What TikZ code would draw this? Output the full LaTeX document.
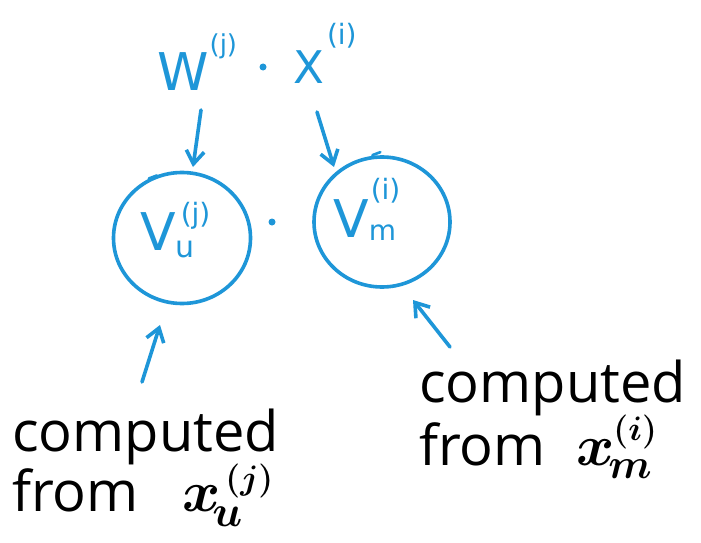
\RequirePackage{fix-cm}
\documentclass[tikz,border=0pt]{standalone}
\usepackage{amsmath}
\usepackage{fontspec}
\setmainfont{Open Sans}
\newfontfamily\handfont{DejaVu Sans}
\usetikzlibrary{arrows.meta,shapes.geometric}
\definecolor{pen}{HTML}{1E96D8}
\newcommand{\fs}[1]{\fontsize{#1}{#1}\selectfont}
\begin{document}
\begin{tikzpicture}[x=1pt,y=-1pt,
  penline/.style={draw=pen, line width=3.6pt, line cap=round, line join=round},
  penarrow/.style={penline, -{Straight Barb[length=13pt,width=18pt,line width=3.6pt]}},
  hand/.style={text=pen, font=\handfont, inner sep=0pt, anchor=base west},
  blob/.style={penline, ellipse, minimum width=137pt, minimum height=131pt, inner sep=0pt},
  lbl/.style={font=\fs{56}, inner sep=0pt, anchor=base west, align=left},
  mathlbl/.style={inner sep=0pt, anchor=base west, font=\boldmath}]
\useasboundingbox (0,0) rectangle (701,543);
\fill[white] (0,0) rectangle (701,543);

% top handwritten product
\node[hand] (wj) at (157,90) {\fs{52}W\kern1pt\raisebox{36pt}{\fs{26}(j)}};
\node[circle, fill=pen, inner sep=0pt, minimum size=7pt] (dot1) at (263,67) {};
\node[hand] (xi) at (293,83) {\fs{45}X\kern3pt\raisebox{39pt}{\fs{28}(i)}};

% circles
\node[blob] (cu) at (182,238) {};
\node[blob, minimum width=136pt, minimum height=130pt] (cm) at (382,222) {};
\draw[penline, line width=2.6pt] (cu.110) ++(-2,1) -- ++(-8,3);
\draw[penline, line width=2.6pt] (cm.100) ++(2,-1) -- ++(8,-3);

\node[hand] (vu) at (140,250) {\fs{52}V\rlap{\kern0pt\raisebox{-7pt}{\fs{30}u}}\kern5pt\raisebox{27pt}{\fs{28}(j)}};
\node[circle, fill=pen, inner sep=0pt, minimum size=7pt] (dot2) at (272,222) {};
\node[hand] (vm) at (333,237) {\fs{52}V\rlap{\kern0pt\raisebox{-3pt}{\fs{28}m}}\kern2pt\raisebox{38pt}{\fs{28}(i)}};

% labels
\node[lbl] (lc) at (12,451) {computed};
\node[lbl] (lf) at (12,511) {from};
\node[mathlbl] (lx) at (182,511) {\fs{58}$x$\rlap{\kern-8pt\raisebox{-15pt}{\fs{44}$u$}}\kern5pt\raisebox{22pt}{\fs{34}$(j)$}};
\node[lbl] (rc) at (419,402) {computed};
\node[lbl] (rf) at (419,465) {from};
\node[mathlbl] (rx) at (576,465) {\fs{58}$x$\rlap{\kern-6pt\raisebox{-13pt}{\fs{42}$m$}}\kern-1pt\raisebox{25pt}{\fs{34}$(i)$}};

% arrow tails and tips
\coordinate (t1) at (201,110);
\coordinate (t2) at (317,112);
\coordinate (t3) at (142,382);
\coordinate (t4) at (450,347);
\coordinate (h1) at (193,167);
\coordinate (h2) at (334,167);
\coordinate (h3) at (160,325);
\coordinate (h4) at (413,300);

\draw[penarrow] (t1) -- (h1);
\draw[penarrow] (t2) -- (h2);
\draw[penarrow] (t3) -- (h3);
\draw[penarrow] (t4) -- (h4);
\end{tikzpicture}
\end{document}
